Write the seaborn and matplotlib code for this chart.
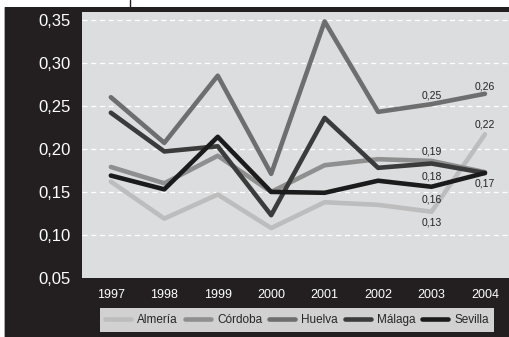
import pandas as pd
import numpy as np
import matplotlib.pyplot as plt
import seaborn as sns
from matplotlib.patches import Rectangle
from matplotlib.lines import Line2D

sns.set_theme(style="white")
plt.rcParams['font.family'] = ['Liberation Sans', 'DejaVu Sans']

years = [1997, 1998, 1999, 2000, 2001, 2002, 2003, 2004]
almeria = [0.162, 0.119, 0.147, 0.108, 0.138, 0.135, 0.127, 0.217]
cordoba = [0.179, 0.160, 0.192, 0.150, 0.181, 0.188, 0.186, 0.173]
huelva = [0.260, 0.207, 0.285, 0.171, 0.348, 0.243, 0.252, 0.264]
malaga = [0.242, 0.197, 0.203, 0.123, 0.236, 0.178, 0.183, 0.172]
sevilla = [0.169, 0.153, 0.214, 0.150, 0.149, 0.163, 0.156, 0.172]

provincias = ["Almería", "Córdoba", "Huelva", "Málaga", "Sevilla"]
colores = ["#bdbdbd", "#8f8f8f", "#6e6e6e", "#3b3b3b", "#1b1b1b"]

# etiquetas de valores (año, valor mostrado, posición y del texto)
etiquetas = [
    (2003, "0,25", 0.262), (2004, "0,26", 0.273),
    (2004, "0,22", 0.228), (2003, "0,19", 0.197),
    (2003, "0,18", 0.168), (2003, "0,16", 0.141),
    (2003, "0,13", 0.114), (2004, "0,17", 0.160),
]

df = pd.DataFrame({
    "Año": years * 5,
    "Valor": almeria + cordoba + huelva + malaga + sevilla,
    "Provincia": np.repeat(provincias, len(years)),
})

fig = plt.figure(figsize=(5.1, 3.37), dpi=100)
fig.patch.set_facecolor("white")
fig.add_artist(Rectangle((5 / 510, 0), 505 / 510, 1 - 7 / 337,
                         transform=fig.transFigure, facecolor="#231f20",
                         edgecolor="none", zorder=0))
fig.add_artist(Line2D([130 / 510, 130 / 510], [1 - 7 / 337, 1],
                      transform=fig.transFigure, color="#231f20", lw=1))
fig.add_artist(Line2D([4 / 510, 4 / 510], [0, 1 - 7 / 337],
                      transform=fig.transFigure, color="#999999", lw=0.6))

ax = fig.add_axes([82 / 510, 1 - 278 / 337, 427 / 510, 266 / 337])
ax.set_facecolor("#dcdddf")

sns.lineplot(data=df, x="Año", y="Valor", hue="Provincia",
             palette=dict(zip(provincias, colores)), linewidth=3.3,
             ax=ax, legend=False)

for yv in [0.10, 0.15, 0.20, 0.25, 0.30, 0.35]:
    ax.axhline(yv, color="white", lw=0.9, ls=(0, (4, 3)), zorder=0.5)

for x, txt, y in etiquetas:
    ax.text(x, y, txt, ha="center", va="center", fontsize=7.5, color="#222222")

ax.set_xlim(1996.46, 2004.45)
ax.set_ylim(0.05, 0.359)
ax.set_xticks(years)
ax.set_xticklabels([str(y) for y in years])
ax.set_yticks([0.05, 0.10, 0.15, 0.20, 0.25, 0.30, 0.35])
ax.set_yticklabels(["0,05", "0,10", "0,15", "0,20", "0,25", "0,30", "0,35"])
ax.tick_params(axis="y", colors="white", labelsize=12, length=0, pad=8)
ax.tick_params(axis="x", colors="white", labelsize=9, length=0, pad=8)
ax.set_xlabel("")
ax.set_ylabel("")
for s in ax.spines.values():
    s.set_visible(False)

handles = [Line2D([], [], color=c, lw=3.3) for c in colores]
leg = fig.legend(handles, provincias, ncol=5, loc="center",
                 bbox_to_anchor=(297 / 510, 1 - 320 / 337), frameon=True,
                 fancybox=False, fontsize=8.5, handlelength=2.2,
                 columnspacing=0.6, handletextpad=0.5, borderpad=0.5,
                 borderaxespad=0)
leg.get_frame().set_facecolor("white")
leg.get_frame().set_edgecolor("white")
leg.get_frame().set_linewidth(0)

fig.savefig("out.png", dpi=100)
